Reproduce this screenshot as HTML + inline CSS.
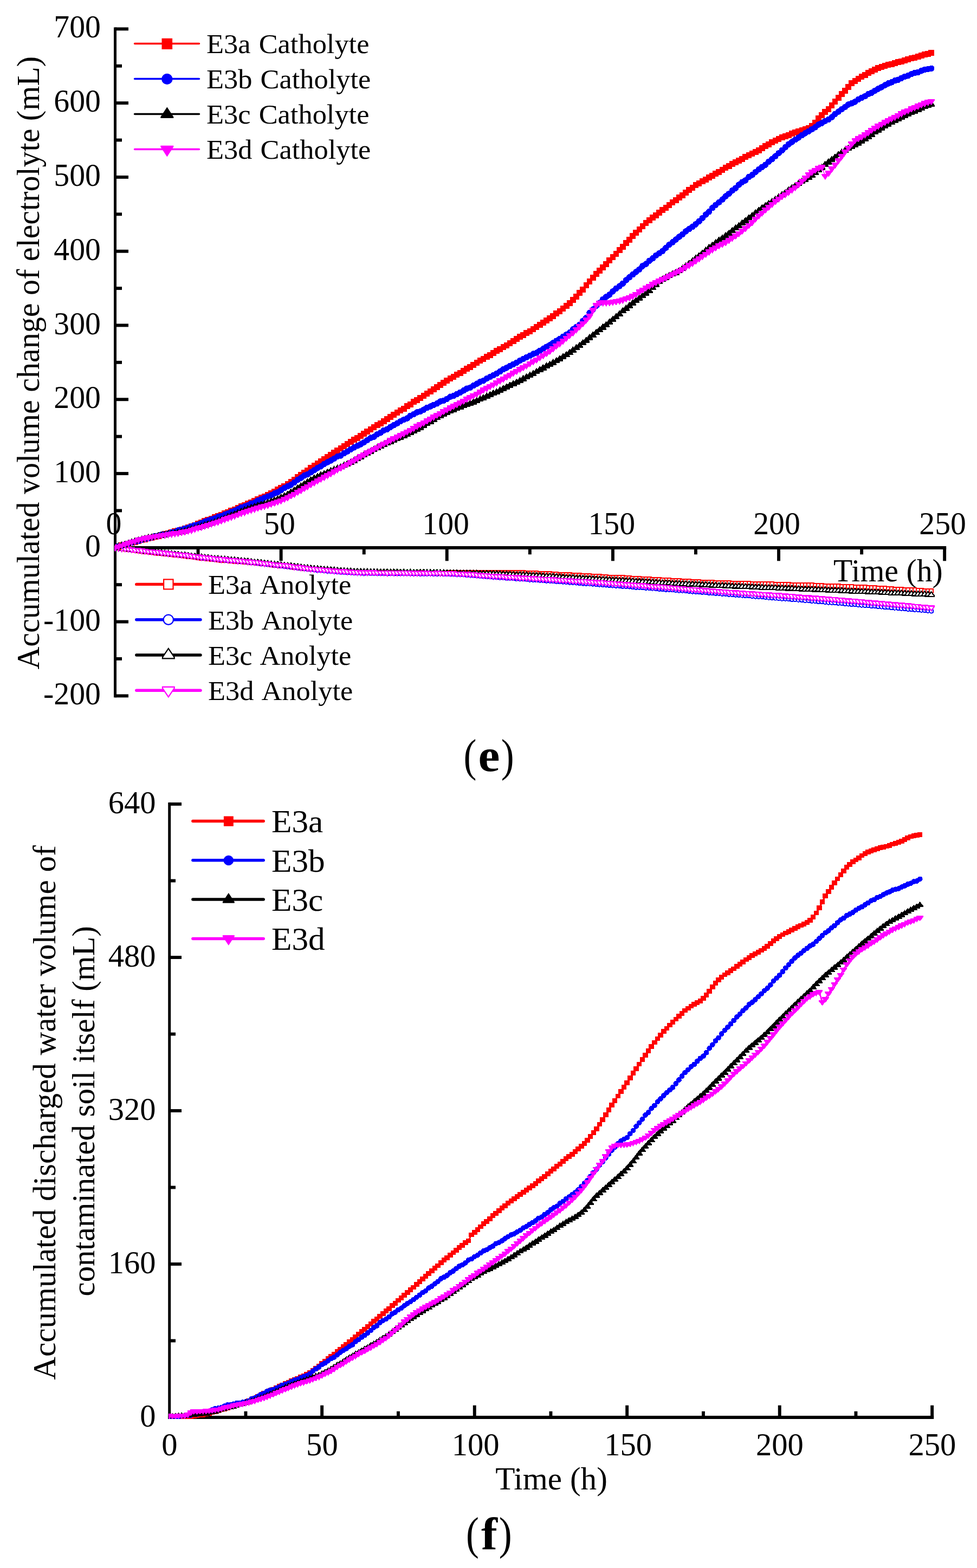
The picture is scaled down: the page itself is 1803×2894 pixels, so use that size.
<!DOCTYPE html>
<html lang="en">
<head>
<meta charset="utf-8">
<title>Accumulated electrolyte volume change and discharged water volume</title>
<style>
html,body{margin:0;padding:0;background:#fff}
body{width:1803px;height:2894px;overflow:hidden}
svg{display:block}
text{font-family:"Liberation Serif","DejaVu Serif",serif;fill:#000}
</style>
</head>
<body>
<svg width="1803" height="2894" viewBox="0 0 1803 2894">
<rect width="1803" height="2894" fill="#fff"/>
<defs>
<clipPath id="clip-e"><rect x="211" y="0" width="1592" height="1330"/></clipPath>
<marker id="eaa" markerUnits="userSpaceOnUse" markerWidth="29" markerHeight="29" viewBox="-14.5 -14.5 29 29" refX="0" refY="0"><g shape-rendering="crispEdges"><rect x="-3.4" y="-3.4" width="6.8" height="6.8" fill="#fff" stroke="#ff0000" stroke-width="2.0"/></g></marker>
<marker id="eab" markerUnits="userSpaceOnUse" markerWidth="29" markerHeight="29" viewBox="-14.5 -14.5 29 29" refX="0" refY="0"><g shape-rendering="crispEdges"><circle cx="0" cy="0" r="3.8" fill="#fff" stroke="#0000ff" stroke-width="2.0"/></g></marker>
<marker id="eac" markerUnits="userSpaceOnUse" markerWidth="29" markerHeight="29" viewBox="-14.5 -14.5 29 29" refX="0" refY="0"><g shape-rendering="crispEdges"><path d="M0 -5.6L5 1.2V3H-5V1.2Z" fill="#fff" stroke="#000000" stroke-width="2.2"/></g></marker>
<marker id="ead" markerUnits="userSpaceOnUse" markerWidth="29" markerHeight="29" viewBox="-14.5 -14.5 29 29" refX="0" refY="0"><g shape-rendering="crispEdges"><path d="M0 5.6L5 -1.2V-3H-5V-1.2Z" fill="#fff" stroke="#ff00ff" stroke-width="2.2"/></g></marker>
<marker id="eca" markerUnits="userSpaceOnUse" markerWidth="29" markerHeight="29" viewBox="-14.5 -14.5 29 29" refX="0" refY="0"><g shape-rendering="crispEdges"><rect x="-5.4" y="-5.5" width="10.8" height="11" fill="#ff0000"/></g></marker>
<marker id="ecb" markerUnits="userSpaceOnUse" markerWidth="29" markerHeight="29" viewBox="-14.5 -14.5 29 29" refX="0" refY="0"><g shape-rendering="crispEdges"><circle cx="0" cy="0" r="5.8" fill="#0000ff"/></g></marker>
<marker id="ecc" markerUnits="userSpaceOnUse" markerWidth="29" markerHeight="29" viewBox="-14.5 -14.5 29 29" refX="0" refY="0"><g shape-rendering="crispEdges"><path d="M0 -7.6L6.4 1.7V4H-6.4V1.7Z" fill="#000000"/></g></marker>
<marker id="ecd" markerUnits="userSpaceOnUse" markerWidth="29" markerHeight="29" viewBox="-14.5 -14.5 29 29" refX="0" refY="0"><g shape-rendering="crispEdges"><path d="M0 7.6L6.4 -1.7V-4H-6.4V-1.7Z" fill="#ff00ff"/></g></marker>
<clipPath id="clip-f"><rect x="311" y="1400" width="1492" height="1219"/></clipPath>
<marker id="fa" markerUnits="userSpaceOnUse" markerWidth="25.6" markerHeight="25.6" viewBox="-12.8 -12.8 25.6 25.6" refX="0" refY="0"><g shape-rendering="crispEdges"><rect x="-4.8" y="-4.4" width="9.6" height="8.8" fill="#ff0000"/></g></marker>
<marker id="fb" markerUnits="userSpaceOnUse" markerWidth="25.6" markerHeight="25.6" viewBox="-12.8 -12.8 25.6 25.6" refX="0" refY="0"><g shape-rendering="crispEdges"><circle cx="0" cy="0" r="4.9" fill="#0000ff"/></g></marker>
<marker id="fc" markerUnits="userSpaceOnUse" markerWidth="25.6" markerHeight="25.6" viewBox="-12.8 -12.8 25.6 25.6" refX="0" refY="0"><g shape-rendering="crispEdges"><path d="M0 -6.7L6.4 1.5V3.5H-6.4V1.5Z" fill="#000000"/></g></marker>
<marker id="fd" markerUnits="userSpaceOnUse" markerWidth="25.6" markerHeight="25.6" viewBox="-12.8 -12.8 25.6 25.6" refX="0" refY="0"><g shape-rendering="crispEdges"><path d="M0 6.7L6.4 -1.5V-3.5H-6.4V-1.5Z" fill="#ff00ff"/></g></marker>
</defs>
<g id="chart-e-text"><text transform="translate(186 1300.3) scale(0.976 1)" font-size="59.2" text-anchor="end">-200</text><text transform="translate(186 1163.6) scale(0.976 1)" font-size="59.2" text-anchor="end">-100</text><text transform="translate(186 1026.8) scale(0.976 1)" font-size="59.2" text-anchor="end">0</text><text transform="translate(186 890) scale(0.976 1)" font-size="59.2" text-anchor="end">100</text><text transform="translate(186 753.3) scale(0.976 1)" font-size="59.2" text-anchor="end">200</text><text transform="translate(186 616.5) scale(0.976 1)" font-size="59.2" text-anchor="end">300</text><text transform="translate(186 479.7) scale(0.976 1)" font-size="59.2" text-anchor="end">400</text><text transform="translate(186 343) scale(0.976 1)" font-size="59.2" text-anchor="end">500</text><text transform="translate(186 206.2) scale(0.976 1)" font-size="59.2" text-anchor="end">600</text><text transform="translate(186 69.4) scale(0.976 1)" font-size="59.2" text-anchor="end">700</text><text transform="translate(209.9 985.6) scale(0.976 1)" font-size="59.2" text-anchor="middle">0</text><text transform="translate(516 985.6) scale(0.976 1)" font-size="59.2" text-anchor="middle">50</text><text transform="translate(822.6 985.6) scale(0.976 1)" font-size="59.2" text-anchor="middle">100</text><text transform="translate(1128.7 985.6) scale(0.976 1)" font-size="59.2" text-anchor="middle">150</text><text transform="translate(1433.5 985.6) scale(0.976 1)" font-size="59.2" text-anchor="middle">200</text><text transform="translate(1739.6 985.6) scale(0.976 1)" font-size="59.2" text-anchor="middle">250</text><text transform="translate(1739.8 1072.5) scale(0.976 1)" font-size="59.2" text-anchor="end">Time (h)</text><text transform="translate(72.4 669.8) rotate(-90) scale(0.9795 1)" font-size="59.2" text-anchor="middle">Accumulated volume change of electrolyte (mL)</text></g>
<g id="chart-e-axes" fill="#000"><rect x="210" y="50.5" width="5" height="1236.8"/><rect x="212.5" y="1281.4" width="24.5" height="5.9"/><rect x="212.5" y="1213" width="12.5" height="5.9"/><rect x="212.5" y="1144.6" width="24.5" height="5.9"/><rect x="212.5" y="1076.2" width="12.5" height="5.9"/><rect x="212.5" y="1007.8" width="24.5" height="5.9"/><rect x="212.5" y="939.5" width="12.5" height="5.9"/><rect x="212.5" y="871.1" width="24.5" height="5.9"/><rect x="212.5" y="802.7" width="12.5" height="5.9"/><rect x="212.5" y="734.3" width="24.5" height="5.9"/><rect x="212.5" y="665.9" width="12.5" height="5.9"/><rect x="212.5" y="597.5" width="24.5" height="5.9"/><rect x="212.5" y="529.2" width="12.5" height="5.9"/><rect x="212.5" y="460.8" width="24.5" height="5.9"/><rect x="212.5" y="392.4" width="12.5" height="5.9"/><rect x="212.5" y="324" width="24.5" height="5.9"/><rect x="212.5" y="255.6" width="12.5" height="5.9"/><rect x="212.5" y="187.2" width="24.5" height="5.9"/><rect x="212.5" y="118.8" width="12.5" height="5.9"/><rect x="212.5" y="50.5" width="24.5" height="5.9"/><rect x="210" y="1008" width="1536.2" height="6"/><rect x="362.6" y="1010.8" width="5.9" height="12.5"/><rect x="515.7" y="1010.8" width="5.9" height="24.5"/><rect x="668.8" y="1010.8" width="5.9" height="12.5"/><rect x="821.8" y="1010.8" width="5.9" height="24.5"/><rect x="974.9" y="1010.8" width="5.9" height="12.5"/><rect x="1128" y="1010.8" width="5.9" height="24.5"/><rect x="1281" y="1010.8" width="5.9" height="12.5"/><rect x="1434.1" y="1010.8" width="5.9" height="24.5"/><rect x="1587.2" y="1010.8" width="5.9" height="12.5"/><rect x="1740.2" y="1010.8" width="5.9" height="24.5"/></g>
<g id="chart-e-data" clip-path="url(#clip-e)" shape-rendering="crispEdges"><polyline points="212.5,1010.8 218.6,1011.4 224.7,1012.5 230.9,1013.5 237,1014.2 243.1,1015 249.2,1015.6 255.4,1016.7 261.5,1017.7 267.6,1018.4 273.7,1019.1 279.9,1019.5 286,1020.7 292.1,1021.4 298.2,1021.7 304.3,1022.6 310.5,1023 316.6,1023.7 322.7,1024.5 328.8,1025.1 335,1026.1 341.1,1026.9 347.2,1027.4 353.3,1028.1 359.4,1028.7 365.6,1029.4 371.7,1030.5 377.8,1031.1 383.9,1031.5 390.1,1032.4 396.2,1033 402.3,1033.7 408.4,1034.2 414.6,1034.6 420.7,1035.1 426.8,1035.7 432.9,1036.2 439,1036.4 445.2,1036.8 451.3,1037.6 457.4,1037.8 463.5,1038.5 469.7,1039 475.8,1039.7 481.9,1040.3 488,1041.1 494.1,1042 500.3,1042.7 506.4,1043.3 512.5,1043.9 518.6,1044.6 524.8,1045.1 530.9,1045.6 537,1046.4 543.1,1047.3 549.3,1047.6 555.4,1048.2 561.5,1049.3 567.6,1049.6 573.7,1050.4 579.9,1051 586,1051.6 592.1,1051.9 598.2,1052.3 604.4,1053 610.5,1053.4 616.6,1053.8 622.7,1054.4 628.9,1054.7 635,1055.3 641.1,1055.4 647.2,1055.9 653.3,1056.3 659.5,1056.2 665.6,1056.5 671.7,1056.4 677.8,1056.5 684,1056.4 690.1,1056.4 696.2,1056.8 702.3,1056.7 708.4,1056.8 714.6,1056.9 720.7,1056.7 726.8,1056.7 732.9,1056.7 739.1,1057 745.2,1057 751.3,1057 757.4,1057.1 763.6,1057 769.7,1057 775.8,1056.8 781.9,1057.1 788,1056.9 794.2,1057 800.3,1056.9 806.4,1057 812.5,1057.1 818.7,1057 824.8,1056.9 830.9,1056.8 837,1057.1 843.1,1056.8 849.3,1056.8 855.4,1056.5 861.5,1056.5 867.6,1056.3 873.8,1056.4 879.9,1056.5 886,1056.5 892.1,1056.2 898.3,1056 904.4,1056.1 910.5,1056.1 916.6,1056.2 922.7,1056 928.9,1056.3 935,1056.1 941.1,1056.1 947.2,1056.3 953.4,1056.7 959.5,1056.7 965.6,1056.8 971.7,1057 977.9,1057.3 984,1057.4 990.1,1057.7 996.2,1058.2 1002.3,1058.4 1008.5,1058.7 1014.6,1058.6 1020.7,1059.1 1026.8,1059.3 1033,1059.9 1039.1,1060 1045.2,1060.6 1051.3,1060.6 1057.4,1061 1063.6,1061.6 1069.7,1061.8 1075.8,1062.3 1081.9,1062.4 1088.1,1062.6 1094.2,1063.2 1100.3,1063.5 1106.4,1063.8 1112.6,1063.9 1118.7,1064.2 1124.8,1064.9 1130.9,1065.2 1137,1065.5 1143.2,1065.5 1149.3,1065.7 1155.4,1066.3 1161.5,1066.7 1167.7,1067 1173.8,1067 1179.9,1067.5 1186,1068.1 1192.1,1068.1 1198.3,1068.8 1204.4,1069.3 1210.5,1069.3 1216.6,1069.5 1222.8,1070.4 1228.9,1070.6 1235,1070.8 1241.1,1071.2 1247.3,1071.7 1253.4,1071.8 1259.5,1072 1265.6,1072.6 1271.7,1072.8 1277.9,1073.3 1284,1073.7 1290.1,1073.7 1296.2,1073.9 1302.4,1074.1 1308.5,1074.7 1314.6,1074.6 1320.7,1075.3 1326.8,1075.3 1333,1075.7 1339.1,1075.8 1345.2,1075.7 1351.3,1075.9 1357.5,1076.5 1363.6,1076.3 1369.7,1076.7 1375.8,1076.6 1382,1076.8 1388.1,1077.2 1394.2,1077.1 1400.3,1077.5 1406.4,1077.7 1412.6,1077.6 1418.7,1077.7 1424.8,1077.8 1430.9,1078.1 1437.1,1078.1 1443.2,1078.5 1449.3,1078.7 1455.4,1078.8 1461.6,1079 1467.7,1079.1 1473.8,1079.4 1479.9,1079.4 1486,1079.8 1492.2,1079.7 1498.3,1079.8 1504.4,1080 1510.5,1080.5 1516.7,1080.4 1522.8,1080.9 1528.9,1081.2 1535,1081.3 1541.1,1081.3 1547.3,1081.8 1553.4,1081.9 1559.5,1082.4 1565.6,1082.4 1571.8,1082.6 1577.9,1083 1584,1083.3 1590.1,1083.5 1596.3,1083.8 1602.4,1084.3 1608.5,1084.5 1614.6,1084.6 1620.7,1085.1 1626.9,1085.4 1633,1085.8 1639.1,1085.9 1645.2,1086.3 1651.4,1087 1657.5,1087.3 1663.6,1087.7 1669.7,1088 1675.8,1088.2 1682,1088.8 1688.1,1088.8 1694.2,1089.3 1700.3,1089.7 1706.5,1090 1712.6,1090.3 1718.7,1090.7" fill="none" stroke="#ff0000" stroke-width="2" stroke-linejoin="round" marker-start="url(#eaa)" marker-mid="url(#eaa)" marker-end="url(#eaa)"/><polyline points="212.5,1010.8 218.6,1011.6 224.7,1012.1 230.9,1013 237,1013.5 243.1,1014.6 249.2,1015.3 255.4,1015.6 261.5,1016.8 267.6,1017.1 273.7,1017.9 279.9,1018.8 286,1019.6 292.1,1020.3 298.2,1020.6 304.3,1021.5 310.5,1022.2 316.6,1022.9 322.7,1023.7 328.8,1024.1 335,1025.1 341.1,1025.5 347.2,1026.2 353.3,1027 359.4,1027.8 365.6,1028.7 371.7,1029.3 377.8,1030.2 383.9,1030.6 390.1,1031.5 396.2,1032.1 402.3,1032.5 408.4,1033.1 414.6,1033.9 420.7,1034.3 426.8,1035 432.9,1035.4 439,1036 445.2,1036.3 451.3,1036.9 457.4,1037.5 463.5,1038.4 469.7,1038.6 475.8,1039.7 481.9,1040.1 488,1040.9 494.1,1041.6 500.3,1042.3 506.4,1043.1 512.5,1043.6 518.6,1044.3 524.8,1045.3 530.9,1046 537,1046.5 543.1,1047.4 549.3,1048.1 555.4,1048.8 561.5,1049.7 567.6,1050.4 573.7,1050.9 579.9,1051.8 586,1052.5 592.1,1052.7 598.2,1053.3 604.4,1054 610.5,1054.4 616.6,1054.9 622.7,1055.4 628.9,1056.1 635,1056.4 641.1,1056.8 647.2,1057 653.3,1057.4 659.5,1057.8 665.6,1057.7 671.7,1058.2 677.8,1057.9 684,1058.2 690.1,1058.1 696.2,1058.4 702.3,1058.5 708.4,1058.7 714.6,1058.8 720.7,1058.6 726.8,1058.7 732.9,1058.9 739.1,1058.8 745.2,1058.6 751.3,1058.7 757.4,1058.7 763.6,1059.1 769.7,1058.8 775.8,1059.1 781.9,1059.1 788,1059.1 794.2,1058.8 800.3,1059.3 806.4,1059.4 812.5,1059.1 818.7,1059.5 824.8,1059.4 830.9,1059.7 837,1059.9 843.1,1060.2 849.3,1060.4 855.4,1060.7 861.5,1061.4 867.6,1061.9 873.8,1062.1 879.9,1062.6 886,1063.2 892.1,1063.7 898.3,1064.4 904.4,1064.6 910.5,1065.1 916.6,1065.7 922.7,1066 928.9,1066.4 935,1067 941.1,1067.1 947.2,1067.5 953.4,1068.1 959.5,1068.7 965.6,1068.8 971.7,1069.2 977.9,1070 984,1070.1 990.1,1070.7 996.2,1071 1002.3,1071.6 1008.5,1072 1014.6,1072.2 1020.7,1072.7 1026.8,1073.2 1033,1073.5 1039.1,1073.9 1045.2,1074.3 1051.3,1075 1057.4,1075.2 1063.6,1075.8 1069.7,1076.5 1075.8,1076.9 1081.9,1077.4 1088.1,1077.4 1094.2,1077.9 1100.3,1078.4 1106.4,1078.9 1112.6,1079.4 1118.7,1079.8 1124.8,1080.4 1130.9,1080.8 1137,1081.2 1143.2,1081.4 1149.3,1082.2 1155.4,1082.6 1161.5,1082.8 1167.7,1083.3 1173.8,1084.1 1179.9,1084.2 1186,1084.7 1192.1,1085.3 1198.3,1085.7 1204.4,1085.9 1210.5,1086.6 1216.6,1087.2 1222.8,1087.7 1228.9,1088.1 1235,1088.2 1241.1,1088.7 1247.3,1089.3 1253.4,1089.9 1259.5,1090.1 1265.6,1090.7 1271.7,1091.1 1277.9,1091.9 1284,1092.4 1290.1,1092.7 1296.2,1093.1 1302.4,1093.4 1308.5,1094.3 1314.6,1094.7 1320.7,1095.2 1326.8,1095.2 1333,1096.1 1339.1,1096.2 1345.2,1097.1 1351.3,1097.4 1357.5,1098.1 1363.6,1098.3 1369.7,1098.9 1375.8,1099.4 1382,1099.7 1388.1,1100.3 1394.2,1100.9 1400.3,1101.3 1406.4,1101.7 1412.6,1102.2 1418.7,1102.9 1424.8,1103.5 1430.9,1103.8 1437.1,1104.3 1443.2,1104.9 1449.3,1105 1455.4,1105.4 1461.6,1106.3 1467.7,1106.7 1473.8,1107 1479.9,1107.7 1486,1108.2 1492.2,1108.6 1498.3,1109.1 1504.4,1109.5 1510.5,1110.2 1516.7,1110.5 1522.8,1111.3 1528.9,1111.9 1535,1112.3 1541.1,1112.6 1547.3,1113.2 1553.4,1113.7 1559.5,1114.2 1565.6,1114.8 1571.8,1115.4 1577.9,1115.7 1584,1116.1 1590.1,1116.9 1596.3,1117.5 1602.4,1117.6 1608.5,1118.4 1614.6,1118.7 1620.7,1119.4 1626.9,1119.8 1633,1120.6 1639.1,1120.7 1645.2,1121.7 1651.4,1121.9 1657.5,1122.3 1663.6,1123 1669.7,1123.4 1675.8,1124.2 1682,1124.6 1688.1,1125.1 1694.2,1125.5 1700.3,1126 1706.5,1126.7 1712.6,1127.1 1718.7,1127.8" fill="none" stroke="#0000ff" stroke-width="2" stroke-linejoin="round" marker-start="url(#eab)" marker-mid="url(#eab)" marker-end="url(#eab)"/><polyline points="212.5,1010.8 218.6,1011.4 224.7,1012.5 230.9,1013.3 237,1014 243.1,1014.5 249.2,1015.3 255.4,1016.1 261.5,1016.7 267.6,1017.4 273.7,1017.8 279.9,1018.6 286,1019.1 292.1,1020.2 298.2,1020.6 304.3,1021.4 310.5,1021.8 316.6,1022.5 322.7,1023 328.8,1023.8 335,1024.7 341.1,1025 347.2,1025.7 353.3,1026.7 359.4,1026.9 365.6,1027.6 371.7,1028.5 377.8,1029.3 383.9,1029.5 390.1,1030.5 396.2,1031.2 402.3,1031.4 408.4,1032.2 414.6,1032.7 420.7,1033.2 426.8,1034 432.9,1034 439,1034.7 445.2,1035.5 451.3,1035.8 457.4,1036.4 463.5,1037.2 469.7,1037.9 475.8,1038.2 481.9,1039 488,1039.6 494.1,1040.3 500.3,1041.1 506.4,1041.8 512.5,1042.1 518.6,1043.1 524.8,1043.7 530.9,1044.2 537,1044.9 543.1,1045.6 549.3,1046.3 555.4,1047.4 561.5,1048 567.6,1048.4 573.7,1049.2 579.9,1049.8 586,1050.1 592.1,1051 598.2,1051.2 604.4,1051.6 610.5,1052 616.6,1052.6 622.7,1053.2 628.9,1053.7 635,1054.1 641.1,1054.2 647.2,1054.4 653.3,1055.1 659.5,1055.1 665.6,1055.2 671.7,1055.7 677.8,1055.5 684,1055.6 690.1,1055.9 696.2,1056 702.3,1056.3 708.4,1056.1 714.6,1056.1 720.7,1056.5 726.8,1056.2 732.9,1056.3 739.1,1056.5 745.2,1056.5 751.3,1056.9 757.4,1056.5 763.6,1056.9 769.7,1056.9 775.8,1056.7 781.9,1056.7 788,1057.2 794.2,1056.9 800.3,1056.9 806.4,1057.1 812.5,1057.4 818.7,1057.4 824.8,1057.6 830.9,1057.8 837,1057.6 843.1,1057.7 849.3,1058.1 855.4,1057.9 861.5,1058.3 867.6,1058.1 873.8,1058.3 879.9,1058.3 886,1058.8 892.1,1058.7 898.3,1058.8 904.4,1059 910.5,1059.2 916.6,1059.3 922.7,1059.6 928.9,1060 935,1060.2 941.1,1060.2 947.2,1060.7 953.4,1061.1 959.5,1061.2 965.6,1061.4 971.7,1061.5 977.9,1062.2 984,1062.5 990.1,1062.5 996.2,1062.9 1002.3,1063.5 1008.5,1063.8 1014.6,1064 1020.7,1064.3 1026.8,1064.6 1033,1065.2 1039.1,1065.7 1045.2,1066.2 1051.3,1066.4 1057.4,1066.6 1063.6,1067.2 1069.7,1067.2 1075.8,1067.9 1081.9,1068.3 1088.1,1068.3 1094.2,1068.9 1100.3,1069.1 1106.4,1069.5 1112.6,1069.9 1118.7,1070.2 1124.8,1070.5 1130.9,1071.1 1137,1071.1 1143.2,1071.7 1149.3,1071.8 1155.4,1072.3 1161.5,1072.5 1167.7,1072.9 1173.8,1073.3 1179.9,1073.4 1186,1073.8 1192.1,1074.4 1198.3,1074.5 1204.4,1074.8 1210.5,1075.4 1216.6,1075.8 1222.8,1076.1 1228.9,1076.3 1235,1076.3 1241.1,1077.1 1247.3,1077.2 1253.4,1077.7 1259.5,1077.8 1265.6,1077.9 1271.7,1078.7 1277.9,1078.5 1284,1079.1 1290.1,1079.2 1296.2,1079.5 1302.4,1079.7 1308.5,1080.3 1314.6,1080.4 1320.7,1080.8 1326.8,1081.3 1333,1081.2 1339.1,1081.4 1345.2,1081.8 1351.3,1082.2 1357.5,1082.6 1363.6,1082.5 1369.7,1082.9 1375.8,1083.1 1382,1083.3 1388.1,1083.6 1394.2,1084.1 1400.3,1084 1406.4,1084.7 1412.6,1084.9 1418.7,1085.1 1424.8,1085.1 1430.9,1085.3 1437.1,1085.9 1443.2,1085.8 1449.3,1086.2 1455.4,1086.4 1461.6,1086.5 1467.7,1087.2 1473.8,1087.1 1479.9,1087.6 1486,1087.9 1492.2,1088 1498.3,1088 1504.4,1088.6 1510.5,1088.6 1516.7,1089.2 1522.8,1089 1528.9,1089.6 1535,1089.8 1541.1,1090 1547.3,1090.1 1553.4,1090.4 1559.5,1090.9 1565.6,1091.3 1571.8,1091.5 1577.9,1091.7 1584,1091.7 1590.1,1092.3 1596.3,1092.3 1602.4,1092.5 1608.5,1093 1614.6,1093.3 1620.7,1093.3 1626.9,1093.5 1633,1093.8 1639.1,1094.2 1645.2,1094.7 1651.4,1094.7 1657.5,1095.1 1663.6,1095.1 1669.7,1095.5 1675.8,1095.9 1682,1096.1 1688.1,1096.5 1694.2,1096.8 1700.3,1096.8 1706.5,1096.9 1712.6,1097.5 1718.7,1097.9" fill="none" stroke="#000000" stroke-width="2" stroke-linejoin="round" marker-start="url(#eac)" marker-mid="url(#eac)" marker-end="url(#eac)"/><polyline points="212.5,1010.8 218.6,1011.6 224.7,1012.3 230.9,1012.6 237,1013.4 243.1,1014.4 249.2,1014.9 255.4,1015.4 261.5,1016.2 267.6,1016.7 273.7,1017.7 279.9,1018.1 286,1018.8 292.1,1019.2 298.2,1020.2 304.3,1020.6 310.5,1021.6 316.6,1022 322.7,1022.8 328.8,1023.5 335,1024.2 341.1,1024.5 347.2,1025.3 353.3,1026.1 359.4,1026.9 365.6,1027.5 371.7,1028.4 377.8,1029.1 383.9,1029.5 390.1,1030.3 396.2,1031.2 402.3,1031.4 408.4,1032.3 414.6,1032.5 420.7,1033.4 426.8,1033.9 432.9,1034.3 439,1035.1 445.2,1035.3 451.3,1035.8 457.4,1036.4 463.5,1037.2 469.7,1037.7 475.8,1038.1 481.9,1038.9 488,1039.9 494.1,1040.2 500.3,1041 506.4,1041.8 512.5,1042.5 518.6,1042.8 524.8,1043.5 530.9,1044.2 537,1045 543.1,1046.2 549.3,1046.6 555.4,1047.3 561.5,1048.2 567.6,1048.9 573.7,1049.7 579.9,1050.3 586,1050.9 592.1,1051.2 598.2,1051.9 604.4,1052.2 610.5,1052.8 616.6,1053.4 622.7,1053.9 628.9,1054.5 635,1054.6 641.1,1055.1 647.2,1055.4 653.3,1055.9 659.5,1056.2 665.6,1056.4 671.7,1056.4 677.8,1056.6 684,1056.7 690.1,1056.6 696.2,1056.9 702.3,1056.8 708.4,1056.8 714.6,1057.3 720.7,1056.9 726.8,1057.2 732.9,1057.2 739.1,1057 745.2,1057.3 751.3,1057.2 757.4,1057.3 763.6,1057.6 769.7,1057.6 775.8,1057.5 781.9,1057.4 788,1057.5 794.2,1057.7 800.3,1057.7 806.4,1057.5 812.5,1057.9 818.7,1058.1 824.8,1057.9 830.9,1058.1 837,1058.1 843.1,1058.8 849.3,1058.8 855.4,1059.1 861.5,1059.5 867.6,1059.9 873.8,1060.2 879.9,1061 886,1061.5 892.1,1062 898.3,1062.2 904.4,1062.7 910.5,1063.2 916.6,1063.6 922.7,1063.8 928.9,1064.2 935,1064.8 941.1,1065.1 947.2,1065.1 953.4,1065.6 959.5,1066.3 965.6,1066.4 971.7,1066.7 977.9,1067.1 984,1067.5 990.1,1068 996.2,1068.1 1002.3,1068.8 1008.5,1068.9 1014.6,1069.3 1020.7,1069.5 1026.8,1070 1033,1070.7 1039.1,1070.8 1045.2,1071 1051.3,1071.6 1057.4,1072 1063.6,1072.5 1069.7,1072.7 1075.8,1073.3 1081.9,1073.3 1088.1,1073.9 1094.2,1074.2 1100.3,1074.6 1106.4,1075.1 1112.6,1075.3 1118.7,1075.9 1124.8,1076.3 1130.9,1076.8 1137,1077 1143.2,1077.4 1149.3,1077.8 1155.4,1078.6 1161.5,1078.8 1167.7,1079.5 1173.8,1079.9 1179.9,1080.2 1186,1080.6 1192.1,1081.2 1198.3,1081.8 1204.4,1082.2 1210.5,1082.5 1216.6,1083 1222.8,1083.3 1228.9,1084 1235,1084.2 1241.1,1084.9 1247.3,1085.1 1253.4,1085.8 1259.5,1086.3 1265.6,1086.9 1271.7,1087.2 1277.9,1087.7 1284,1088.2 1290.1,1088.5 1296.2,1089 1302.4,1089.5 1308.5,1089.9 1314.6,1090.4 1320.7,1090.8 1326.8,1091.5 1333,1091.8 1339.1,1092.1 1345.2,1092.8 1351.3,1092.9 1357.5,1093.4 1363.6,1093.8 1369.7,1094.4 1375.8,1094.7 1382,1095.2 1388.1,1095.5 1394.2,1095.8 1400.3,1096.2 1406.4,1096.7 1412.6,1097.1 1418.7,1097.4 1424.8,1098.2 1430.9,1098.2 1437.1,1098.6 1443.2,1099.1 1449.3,1099.6 1455.4,1100 1461.6,1100.3 1467.7,1100.9 1473.8,1101.5 1479.9,1101.7 1486,1102.4 1492.2,1102.6 1498.3,1103.4 1504.4,1103.6 1510.5,1104.1 1516.7,1104.5 1522.8,1105.2 1528.9,1105.4 1535,1105.9 1541.1,1106.3 1547.3,1107.1 1553.4,1107.2 1559.5,1107.7 1565.6,1108.5 1571.8,1109.1 1577.9,1109.2 1584,1109.8 1590.1,1110.2 1596.3,1110.8 1602.4,1111.4 1608.5,1112.1 1614.6,1112.4 1620.7,1113.1 1626.9,1113.4 1633,1114 1639.1,1114.5 1645.2,1114.9 1651.4,1115.5 1657.5,1116.3 1663.6,1116.4 1669.7,1117.3 1675.8,1117.6 1682,1118.3 1688.1,1118.7 1694.2,1119.1 1700.3,1119.9 1706.5,1120.5 1712.6,1121.1 1718.7,1121.5" fill="none" stroke="#ff00ff" stroke-width="2" stroke-linejoin="round" marker-start="url(#ead)" marker-mid="url(#ead)" marker-end="url(#ead)"/><polyline points="212.5,1010.8 218.6,1009.1 224.7,1006.9 230.9,1005.4 237,1003.5 243.1,1001.7 249.2,1000.1 255.4,998.5 261.5,996.8 267.6,995.2 273.7,993.5 279.9,992 286,990.1 292.1,989 298.2,987 304.3,985.9 310.5,984.2 316.6,982.7 322.7,980.8 328.8,979.1 335,977.7 341.1,975.8 347.2,973.3 353.3,971.4 359.4,969.2 365.6,966.9 371.7,964 377.8,961.5 383.9,959.2 390.1,957.1 396.2,954.3 402.3,952.1 408.4,950 414.6,947.3 420.7,945 426.8,942.3 432.9,940 439,937.6 445.2,934.6 451.3,932.4 457.4,929.9 463.5,927.1 469.7,924.1 475.8,921.7 481.9,918.6 488,916 494.1,913.4 500.3,910.1 506.4,907.1 512.5,903.8 518.6,900.4 524.8,897.3 530.9,893.2 537,889.3 543.1,885.3 549.3,880.8 555.4,876.8 561.5,872.2 567.6,868.1 573.7,863.9 579.9,859.5 586,855.6 592.1,851.7 598.2,847.5 604.4,843.3 610.5,839.5 616.6,835.6 622.7,831.5 628.9,827.8 635,823.6 641.1,819.8 647.2,815.5 653.3,811.6 659.5,808.1 665.6,804 671.7,800 677.8,796.6 684,792.4 690.1,788.8 696.2,784.9 702.3,781.1 708.4,777.1 714.6,773.3 720.7,769.2 726.8,765.2 732.9,761.7 739.1,757.6 745.2,754 751.3,749.9 757.4,746 763.6,741.8 769.7,738.3 775.8,734.1 781.9,730.2 788,726.1 794.2,722.1 800.3,718.5 806.4,714.4 812.5,710.1 818.7,706.6 824.8,702.6 830.9,698.9 837,695.4 843.1,691.4 849.3,688 855.4,684.2 861.5,680.2 867.6,677.1 873.8,673.3 879.9,669.9 886,665.7 892.1,662 898.3,658.9 904.4,655.1 910.5,651.1 916.6,647.9 922.7,644.3 928.9,640.8 935,637 941.1,633 947.2,629.2 953.4,625.5 959.5,621.8 965.6,618.3 971.7,614.9 977.9,611 984,607.3 990.1,603.6 996.2,599.3 1002.3,595.5 1008.5,591.7 1014.6,587.8 1020.7,583.4 1026.8,578.9 1033,574.9 1039.1,569.7 1045.2,564.9 1051.3,559.1 1057.4,553.4 1063.6,547.2 1069.7,540.8 1075.8,534 1081.9,526.9 1088.1,519.7 1094.2,512.6 1100.3,505.8 1106.4,499.3 1112.6,493.3 1118.7,487 1124.8,480.5 1130.9,474.2 1137,468.4 1143.2,461.7 1149.3,455 1155.4,448.6 1161.5,442.5 1167.7,435.8 1173.8,429.6 1179.9,423.5 1186,417.3 1192.1,411.3 1198.3,406.4 1204.4,401.7 1210.5,397.3 1216.6,392.4 1222.8,387.7 1228.9,383 1235,378.6 1241.1,373.9 1247.3,369.2 1253.4,364.4 1259.5,360.1 1265.6,355.1 1271.7,350.3 1277.9,346 1284,341.9 1290.1,338.2 1296.2,334.4 1302.4,331 1308.5,327.9 1314.6,324.6 1320.7,320.7 1326.8,317.3 1333,313.2 1339.1,309.7 1345.2,306.5 1351.3,302.7 1357.5,299.7 1363.6,296.4 1369.7,293.4 1375.8,289.8 1382,286.4 1388.1,283.5 1394.2,280.3 1400.3,277.1 1406.4,273.8 1412.6,269.7 1418.7,266.1 1424.8,262.6 1430.9,259.3 1437.1,256.3 1443.2,253.4 1449.3,251.3 1455.4,249 1461.6,246.7 1467.7,244.5 1473.8,242.4 1479.9,240.5 1486,238.6 1492.2,236.1 1498.3,232.5 1504.4,226.7 1510.5,218.8 1516.7,212.7 1522.8,206.9 1528.9,201 1535,194.1 1541.1,187.7 1547.3,180.8 1553.4,173.5 1559.5,167 1565.6,160.4 1571.8,153.9 1577.9,149.4 1584,145.1 1590.1,141.9 1596.3,138.1 1602.4,134.7 1608.5,131.4 1614.6,128.4 1620.7,125.6 1626.9,123.5 1633,121.9 1639.1,119.9 1645.2,118.4 1651.4,116.8 1657.5,114.6 1663.6,113.1 1669.7,111.2 1675.8,109.6 1682,107.5 1688.1,106.1 1694.2,104.2 1700.3,102.2 1706.5,100.9 1712.6,99.1 1718.7,97.1" fill="none" stroke="#ff0000" stroke-width="1.3" stroke-linejoin="round" marker-start="url(#eca)" marker-mid="url(#eca)" marker-end="url(#eca)"/><polyline points="212.5,1010.8 218.6,1008.1 224.7,1007.3 230.9,1005.3 237,1003.5 243.1,1001.6 249.2,999.7 255.4,998.7 261.5,996.5 267.6,994.7 273.7,993.7 279.9,991.9 286,989.7 292.1,988.9 298.2,986.8 304.3,986.4 310.5,985 316.6,982.9 322.7,981.9 328.8,978.9 335,977.9 341.1,975.3 347.2,974 353.3,971.4 359.4,969.4 365.6,968.1 371.7,965.3 377.8,962.9 383.9,960.8 390.1,958.8 396.2,956.7 402.3,953.9 408.4,952.4 414.6,949.7 420.7,947.3 426.8,944.5 432.9,942.7 439,939.8 445.2,936.5 451.3,934.9 457.4,932.7 463.5,929.3 469.7,927.5 475.8,923.9 481.9,921.7 488,918.9 494.1,916.2 500.3,914.1 506.4,910.8 512.5,908.6 518.6,904.8 524.8,900.7 530.9,897.7 537,894.9 543.1,890.3 549.3,885.7 555.4,882.1 561.5,877.9 567.6,875.6 573.7,871.8 579.9,867.8 586,863.9 592.1,860.8 598.2,856.3 604.4,853.1 610.5,850.1 616.6,846.5 622.7,842.5 628.9,840.9 635,836.5 641.1,833.2 647.2,829.4 653.3,825.9 659.5,822.7 665.6,820 671.7,816.4 677.8,812.3 684,808.1 690.1,806.1 696.2,801.7 702.3,798.8 708.4,794.4 714.6,792.1 720.7,788.1 726.8,784.8 732.9,781.2 739.1,777.7 745.2,774.7 751.3,772.1 757.4,767.3 763.6,764.5 769.7,760.9 775.8,759.2 781.9,756.1 788,752.4 794.2,750 800.3,747.5 806.4,744.8 812.5,741 818.7,739.4 824.8,736.3 830.9,732.2 837,730.5 843.1,727.3 849.3,724.4 855.4,720.9 861.5,717.3 867.6,715.4 873.8,711.7 879.9,708.2 886,704.9 892.1,702.8 898.3,698.7 904.4,695.6 910.5,692.4 916.6,689.4 922.7,685.7 928.9,681.5 935,678.9 941.1,675.4 947.2,672.3 953.4,669.4 959.5,665.5 965.6,662.4 971.7,659.3 977.9,656.6 984,653.1 990.1,651.1 996.2,647.4 1002.3,643.9 1008.5,640.3 1014.6,637 1020.7,633 1026.8,629.1 1033,625.3 1039.1,621.3 1045.2,617.7 1051.3,613.9 1057.4,607.9 1063.6,603.6 1069.7,599.3 1075.8,592.2 1081.9,586.3 1088.1,577.4 1094.2,571 1100.3,564.3 1106.4,559 1112.6,552.5 1118.7,548 1124.8,544 1130.9,538 1137,532.7 1143.2,528.1 1149.3,523.3 1155.4,517.1 1161.5,511.9 1167.7,506.6 1173.8,501.9 1179.9,497.1 1186,491 1192.1,487.1 1198.3,481.4 1204.4,476.9 1210.5,471.6 1216.6,467.5 1222.8,463.2 1228.9,457.3 1235,451.8 1241.1,447 1247.3,442 1253.4,437.1 1259.5,432.4 1265.6,427 1271.7,422.7 1277.9,418.5 1284,414 1290.1,408.6 1296.2,402.6 1302.4,396 1308.5,390.7 1314.6,383.7 1320.7,378.4 1326.8,373.4 1333,368.2 1339.1,362.1 1345.2,357.6 1351.3,351.8 1357.5,347.2 1363.6,341 1369.7,336.1 1375.8,332.9 1382,326.6 1388.1,322.9 1394.2,317.6 1400.3,312.7 1406.4,308.2 1412.6,304.2 1418.7,298.4 1424.8,293.8 1430.9,288.2 1437.1,282.7 1443.2,277.5 1449.3,271.8 1455.4,266.2 1461.6,262 1467.7,257.6 1473.8,253.9 1479.9,249.5 1486,245.9 1492.2,242.3 1498.3,238.6 1504.4,234.8 1510.5,230.1 1516.7,227.1 1522.8,223.3 1528.9,220.7 1535,216.2 1541.1,210.5 1547.3,206 1553.4,201.7 1559.5,197.6 1565.6,193 1571.8,190.8 1577.9,187.9 1584,183.6 1590.1,180.5 1596.3,177.6 1602.4,173.6 1608.5,171.2 1614.6,167.3 1620.7,164 1626.9,160.9 1633,157.1 1639.1,154 1645.2,151.9 1651.4,148.8 1657.5,147.2 1663.6,144.2 1669.7,141.3 1675.8,139.8 1682,136.8 1688.1,134.3 1694.2,133.3 1700.3,130.8 1706.5,128.5 1712.6,127.5 1718.7,126.3" fill="none" stroke="#0000ff" stroke-width="1.3" stroke-linejoin="round" marker-start="url(#ecb)" marker-mid="url(#ecb)" marker-end="url(#ecb)"/><polyline points="212.5,1010.8 218.6,1008.8 224.7,1006.6 230.9,1004.7 237,1003.1 243.1,1001.2 249.2,999 255.4,997.4 261.5,995.7 267.6,994.4 273.7,992.7 279.9,991.7 286,990.6 292.1,989.3 298.2,988.5 304.3,987.5 310.5,986.1 316.6,985.4 322.7,984.2 328.8,983.1 335,981.7 341.1,980.5 347.2,978.8 353.3,976.9 359.4,975.4 365.6,973.7 371.7,971.5 377.8,969.5 383.9,967.6 390.1,965.9 396.2,963.9 402.3,961.6 408.4,959.4 414.6,957 420.7,954.3 426.8,951.6 432.9,949.4 439,946.9 445.2,944.3 451.3,941.8 457.4,939.6 463.5,937.5 469.7,935.4 475.8,933.4 481.9,931.6 488,930 494.1,927.9 500.3,925.7 506.4,923.5 512.5,921.3 518.6,918.6 524.8,915.8 530.9,912.7 537,908.9 543.1,905.3 549.3,901.3 555.4,897.6 561.5,893.7 567.6,889.9 573.7,886.3 579.9,882.9 586,880.2 592.1,877.2 598.2,874.7 604.4,872 610.5,869.6 616.6,866.9 622.7,864.5 628.9,862.4 635,859.3 641.1,856.7 647.2,853.7 653.3,850.6 659.5,847.2 665.6,843.9 671.7,840.2 677.8,836.8 684,833.5 690.1,830.2 696.2,827 702.3,823.9 708.4,821.2 714.6,818.1 720.7,815.8 726.8,812.9 732.9,810.1 739.1,807.5 745.2,804.5 751.3,802.1 757.4,799.1 763.6,796 769.7,792.7 775.8,789.5 781.9,785.9 788,782.3 794.2,778.8 800.3,775 806.4,771.3 812.5,768 818.7,764.6 824.8,761.6 830.9,759.2 837,756.6 843.1,754.3 849.3,751.8 855.4,749.3 861.5,746.7 867.6,744.7 873.8,742.6 879.9,740 886,737.3 892.1,734.6 898.3,731.8 904.4,729 910.5,726.2 916.6,723.8 922.7,720.8 928.9,717.6 935,714.8 941.1,711.6 947.2,708.7 953.4,706 959.5,702.8 965.6,699.5 971.7,696.2 977.9,693.2 984,690.1 990.1,686.4 996.2,682.9 1002.3,679.5 1008.5,676.1 1014.6,673.3 1020.7,669.7 1026.8,666.4 1033,662.5 1039.1,658.9 1045.2,655.2 1051.3,651.3 1057.4,646.7 1063.6,642.2 1069.7,638.2 1075.8,633.3 1081.9,628.8 1088.1,623.5 1094.2,619 1100.3,614.2 1106.4,609.4 1112.6,604.5 1118.7,600 1124.8,594.9 1130.9,590.1 1137,585.1 1143.2,580 1149.3,574.3 1155.4,569.5 1161.5,564.5 1167.7,559.9 1173.8,555.2 1179.9,550.8 1186,546.4 1192.1,542.1 1198.3,537 1204.4,531.3 1210.5,525.6 1216.6,520.2 1222.8,516.1 1228.9,512.5 1235,509 1241.1,506.2 1247.3,503.5 1253.4,500.1 1259.5,495.8 1265.6,491.4 1271.7,486.9 1277.9,482.2 1284,477.2 1290.1,472.8 1296.2,467.7 1302.4,462.8 1308.5,457.6 1314.6,453.3 1320.7,448.6 1326.8,444 1333,440 1339.1,435.5 1345.2,431.1 1351.3,426.1 1357.5,421.4 1363.6,417.2 1369.7,412.3 1375.8,407.7 1382,402.8 1388.1,398.5 1394.2,393.4 1400.3,388.9 1406.4,384 1412.6,380.1 1418.7,376 1424.8,372.6 1430.9,368.5 1437.1,364.2 1443.2,360 1449.3,356 1455.4,351.3 1461.6,347 1467.7,343 1473.8,339 1479.9,335.3 1486,331.6 1492.2,327.5 1498.3,323.6 1504.4,318.8 1510.5,314.1 1516.7,309.5 1522.8,304.2 1528.9,299.5 1535,295 1541.1,290.6 1547.3,285.9 1553.4,281.7 1559.5,278 1565.6,274.2 1571.8,271.2 1577.9,268 1584,264.6 1590.1,261.1 1596.3,257 1602.4,252.7 1608.5,248.6 1614.6,244.4 1620.7,240.6 1626.9,236.5 1633,232.9 1639.1,229.8 1645.2,226 1651.4,222.8 1657.5,220 1663.6,216.7 1669.7,213.7 1675.8,211.2 1682,208.3 1688.1,205.6 1694.2,202.6 1700.3,200.2 1706.5,197.3 1712.6,194.9 1718.7,192.7" fill="none" stroke="#000000" stroke-width="1.3" stroke-linejoin="round" marker-start="url(#ecc)" marker-mid="url(#ecc)" marker-end="url(#ecc)"/><polyline points="212.5,1010.8 218.6,1008.5 224.7,1006.5 230.9,1004.2 237,1002.2 243.1,999.9 249.2,998.5 255.4,996.2 261.5,994.7 267.6,993.3 273.7,992.2 279.9,990.6 286,990 292.1,989.1 298.2,987.8 304.3,987.2 310.5,986.1 316.6,985.4 322.7,984.3 328.8,983.8 335,982.4 341.1,981.3 347.2,979.8 353.3,978.2 359.4,976.1 365.6,974.2 371.7,972.7 377.8,970.5 383.9,968.9 390.1,966.7 396.2,964.8 402.3,963.1 408.4,960.7 414.6,958.3 420.7,956.1 426.8,954.1 432.9,951.8 439,949.6 445.2,947.2 451.3,945.2 457.4,942.9 463.5,941.1 469.7,939.3 475.8,937.1 481.9,935.4 488,933.7 494.1,932 500.3,929.8 506.4,928 512.5,925.8 518.6,923.6 524.8,920.7 530.9,918 537,914.6 543.1,911.5 549.3,907.8 555.4,904.7 561.5,900.9 567.6,897.5 573.7,893.8 579.9,890.6 586,887 592.1,883.6 598.2,880.4 604.4,877.1 610.5,873.8 616.6,870.2 622.7,866.5 628.9,863.4 635,859.8 641.1,856.6 647.2,853.3 653.3,849.6 659.5,846.2 665.6,842.4 671.7,839.1 677.8,835.4 684,832.2 690.1,828.7 696.2,825.5 702.3,821.7 708.4,818.5 714.6,815.6 720.7,812.3 726.8,809.2 732.9,806.2 739.1,802.8 745.2,799.9 751.3,796.5 757.4,793.5 763.6,790.1 769.7,786.4 775.8,783.2 781.9,780 788,776.3 794.2,772.7 800.3,769.4 806.4,765.9 812.5,762.6 818.7,759 824.8,755.6 830.9,752.3 837,749.1 843.1,746.1 849.3,742.9 855.4,739.5 861.5,736 867.6,733.1 873.8,729.8 879.9,726.6 886,723 892.1,719.4 898.3,716.4 904.4,712.6 910.5,709.5 916.6,706.1 922.7,702.3 928.9,699.1 935,695.1 941.1,692 947.2,688.2 953.4,684.8 959.5,681.3 965.6,678 971.7,674.5 977.9,670.5 984,666.9 990.1,663.6 996.2,659.5 1002.3,656 1008.5,651.9 1014.6,647.7 1020.7,643.1 1026.8,638.3 1033,633.9 1039.1,628.8 1045.2,623.5 1051.3,618.5 1057.4,613.7 1063.6,608.1 1069.7,602.4 1075.8,596.8 1081.9,590.2 1088.1,583.3 1094.2,572.4 1100.3,563 1106.4,559.3 1112.6,558.4 1118.7,558.3 1124.8,558.2 1130.9,557.2 1137,556.4 1143.2,555.3 1149.3,553.4 1155.4,550.8 1161.5,548.9 1167.7,546.1 1173.8,542.5 1179.9,538.4 1186,534.6 1192.1,530.9 1198.3,527.9 1204.4,524.3 1210.5,521.1 1216.6,518.4 1222.8,515.3 1228.9,512.3 1235,509.2 1241.1,505.9 1247.3,502.9 1253.4,499.9 1259.5,496.7 1265.6,493.1 1271.7,489.3 1277.9,485.7 1284,481.3 1290.1,477.2 1296.2,473 1302.4,468.6 1308.5,464.4 1314.6,460.3 1320.7,456.8 1326.8,453.2 1333,450.2 1339.1,447 1345.2,443 1351.3,439.1 1357.5,434.9 1363.6,430.6 1369.7,425.9 1375.8,421.1 1382,415.5 1388.1,410.1 1394.2,403.7 1400.3,398 1406.4,392.5 1412.6,386.9 1418.7,381.9 1424.8,376.7 1430.9,371.3 1437.1,366.5 1443.2,362 1449.3,358.5 1455.4,354.2 1461.6,350.1 1467.7,345.5 1473.8,340 1479.9,334 1486,327.7 1492.2,322.1 1498.3,317.3 1504.4,313.5 1510.5,310.3 1516.7,308.4 1522.8,324.6 1528.9,319.3 1535,311.3 1541.1,304 1547.3,295.9 1553.4,288.4 1559.5,279.8 1565.6,272.6 1571.8,265.3 1577.9,258.6 1584,255.3 1590.1,252.3 1596.3,248.2 1602.4,244.2 1608.5,239.7 1614.6,235.8 1620.7,232.2 1626.9,228.6 1633,225.1 1639.1,221.8 1645.2,218.8 1651.4,215.6 1657.5,212.5 1663.6,209.4 1669.7,206 1675.8,203.5 1682,200.4 1688.1,197.9 1694.2,195.4 1700.3,192.7 1706.5,190.4 1712.6,188.3 1718.7,186.8" fill="none" stroke="#ff00ff" stroke-width="1.3" stroke-linejoin="round" marker-start="url(#ecd)" marker-mid="url(#ecd)" marker-end="url(#ecd)"/></g>
<g id="chart-e-legend"><line x1="248.6" y1="80.6" x2="367.4" y2="80.6" stroke="#ff0000" stroke-width="3.5" stroke-linecap="round"/><rect x="298.5" y="70.8" width="19.6" height="20.2" fill="#ff0000"/><text transform="translate(381 98) scale(1.042 1)" font-size="50.3" text-anchor="start" word-spacing="2">E3a Catholyte</text><line x1="248.6" y1="145.6" x2="367.4" y2="145.6" stroke="#0000ff" stroke-width="3.5" stroke-linecap="round"/><circle cx="308.3" cy="145.9" r="10.2" fill="#0000ff"/><text transform="translate(381 163) scale(1.042 1)" font-size="50.3" text-anchor="start" word-spacing="2">E3b Catholyte</text><line x1="248.6" y1="210.6" x2="367.4" y2="210.6" stroke="#000000" stroke-width="3.5" stroke-linecap="round"/><path d="M308.3 197.4L320.3 215.7V218H296.3V215.7Z" fill="#000000"/><text transform="translate(381 228) scale(1.042 1)" font-size="50.3" text-anchor="start" word-spacing="2">E3c Catholyte</text><line x1="248.6" y1="275.6" x2="367.4" y2="275.6" stroke="#ff00ff" stroke-width="3.5" stroke-linecap="round"/><path d="M308.3 289.4L320.3 271.1V268.8H296.3V271.1Z" fill="#ff00ff"/><text transform="translate(381 293) scale(1.042 1)" font-size="50.3" text-anchor="start" word-spacing="2">E3d Catholyte</text><line x1="251.8" y1="1078.4" x2="370" y2="1078.4" stroke="#ff0000" stroke-width="5.4" stroke-linecap="round"/><rect x="302.1" y="1069.4" width="17.4" height="18" fill="#fff" stroke="#ff0000" stroke-width="2.2"/><text transform="translate(384 1096.2) scale(1.042 1)" font-size="50.3" text-anchor="start" word-spacing="3.6">E3a Anolyte</text><line x1="251.8" y1="1143.7" x2="370" y2="1143.7" stroke="#0000ff" stroke-width="5.4" stroke-linecap="round"/><circle cx="310.8" cy="1143.7" r="9.1" fill="#fff" stroke="#0000ff" stroke-width="2.2"/><text transform="translate(384 1161.5) scale(1.042 1)" font-size="50.3" text-anchor="start" word-spacing="3.6">E3b Anolyte</text><line x1="251.8" y1="1209" x2="370" y2="1209" stroke="#000000" stroke-width="5.4" stroke-linecap="round"/><path d="M310.8 1196.9L321.7 1213.1V1215.4H299.9V1213.1Z" fill="#fff" stroke="#000000" stroke-width="2.2"/><text transform="translate(384 1226.8) scale(1.042 1)" font-size="50.3" text-anchor="start" word-spacing="3.6">E3c Anolyte</text><line x1="251.8" y1="1274.3" x2="370" y2="1274.3" stroke="#ff00ff" stroke-width="5.4" stroke-linecap="round"/><path d="M310.8 1286.4L321.7 1270.2V1267.9H299.9V1270.2Z" fill="#fff" stroke="#ff00ff" stroke-width="2.2"/><text transform="translate(384 1292.1) scale(1.042 1)" font-size="50.3" text-anchor="start" word-spacing="3.6">E3d Anolyte</text></g>
<g><text transform="translate(855.4 1422.9) scale(0.84 1)" font-size="85.5" text-anchor="start">(</text><text transform="translate(882.6 1423.4) scale(1.07 1)" font-size="84.0" text-anchor="start" font-weight="bold">e</text><text transform="translate(948.6 1422.9) scale(0.84 1)" font-size="85.5" text-anchor="end">)</text></g>
<g id="chart-f-text"><text transform="translate(287.4 2633.1) scale(0.988 1)" font-size="59.2" text-anchor="end">0</text><text transform="translate(287.4 2350.1) scale(0.988 1)" font-size="59.2" text-anchor="end">160</text><text transform="translate(287.4 2067.1) scale(0.988 1)" font-size="59.2" text-anchor="end">320</text><text transform="translate(287.4 1784) scale(0.988 1)" font-size="59.2" text-anchor="end">480</text><text transform="translate(287.4 1501) scale(0.988 1)" font-size="59.2" text-anchor="end">640</text><text transform="translate(312.9 2686.2) scale(0.99 1)" font-size="59.2" text-anchor="middle">0</text><text transform="translate(594.4 2686.2) scale(0.99 1)" font-size="59.2" text-anchor="middle">50</text><text transform="translate(877.7 2686.2) scale(0.99 1)" font-size="59.2" text-anchor="middle">100</text><text transform="translate(1159.2 2686.2) scale(0.99 1)" font-size="59.2" text-anchor="middle">150</text><text transform="translate(1438.9 2686.2) scale(0.99 1)" font-size="59.2" text-anchor="middle">200</text><text transform="translate(1720.4 2686.2) scale(0.99 1)" font-size="59.2" text-anchor="middle">250</text><text transform="translate(1017.6 2749.3)" font-size="59.2" text-anchor="middle">Time (h)</text><text transform="translate(102.3 2053.5) rotate(-90) scale(0.998 1)" font-size="59.2" text-anchor="middle">Accumulated discharged water volume of</text><text transform="translate(174.3 2050.8) rotate(-90) scale(0.992 1)" font-size="59.2" text-anchor="middle">contaminated soil itself (mL)</text></g>
<g id="chart-f-axes" fill="#000"><rect x="310.2" y="1481.1" width="5" height="1137.9"/><rect x="312.7" y="2471.6" width="11.3" height="5.9"/><rect x="312.7" y="2330.1" width="22.3" height="5.9"/><rect x="312.7" y="2188.6" width="11.3" height="5.9"/><rect x="312.7" y="2047.1" width="22.3" height="5.9"/><rect x="312.7" y="1905.6" width="11.3" height="5.9"/><rect x="312.7" y="1764.1" width="22.3" height="5.9"/><rect x="312.7" y="1622.6" width="11.3" height="5.9"/><rect x="312.7" y="1481.1" width="22.3" height="5.9"/><rect x="310.2" y="2613" width="1413" height="6"/><rect x="450.5" y="2604.8" width="5.9" height="11.3"/><rect x="591.2" y="2593.8" width="5.9" height="22.3"/><rect x="732" y="2604.8" width="5.9" height="11.3"/><rect x="872.8" y="2593.8" width="5.9" height="22.3"/><rect x="1013.5" y="2604.8" width="5.9" height="11.3"/><rect x="1154.2" y="2593.8" width="5.9" height="22.3"/><rect x="1295" y="2604.8" width="5.9" height="11.3"/><rect x="1435.8" y="2593.8" width="5.9" height="22.3"/><rect x="1576.5" y="2604.8" width="5.9" height="11.3"/><rect x="1717.2" y="2593.8" width="5.9" height="22.3"/></g>
<g id="chart-f-data" clip-path="url(#clip-f)" shape-rendering="crispEdges"><polyline points="312.7,2616 318.3,2615.8 324,2616 329.6,2615.5 335.2,2615.5 340.8,2615.2 346.5,2615.1 352.1,2614.7 357.7,2613.7 363.4,2613 369,2611.7 374.6,2611.2 380.3,2609.5 385.9,2608.1 391.5,2606.8 397.1,2605.3 402.8,2603.6 408.4,2601.9 414,2600.1 419.7,2598.1 425.3,2596.4 430.9,2595 436.6,2593.2 442.2,2591.9 447.8,2590.2 453.4,2588.2 459.1,2585.7 464.7,2582.8 470.3,2580 476,2577.1 481.6,2574.4 487.2,2571.8 492.9,2569.2 498.5,2566.4 504.1,2564.1 509.8,2561.4 515.4,2558.9 521,2556 526.6,2553.6 532.3,2551.1 537.9,2548.4 543.5,2546.1 549.2,2544.1 554.8,2541.8 560.4,2539.5 566,2536.5 571.7,2533.4 577.3,2529.5 582.9,2525.3 588.6,2521 594.2,2516.6 599.8,2512.2 605.5,2507.9 611.1,2503.8 616.7,2499 622.3,2494.7 628,2490.1 633.6,2485.8 639.2,2481.4 644.9,2476.5 650.5,2472.2 656.1,2467.6 661.8,2462.8 667.4,2457.9 673,2453.5 678.6,2448.5 684.3,2443.9 689.9,2438.9 695.5,2434.3 701.2,2429.4 706.8,2424.3 712.4,2419.5 718.1,2415.1 723.7,2409.9 729.3,2405.1 735,2400 740.6,2395.5 746.2,2390.7 751.8,2385.9 757.5,2380.5 763.1,2376 768.7,2370.7 774.4,2365.8 780,2360.8 785.6,2355.8 791.2,2350.8 796.9,2345.7 802.5,2340.7 808.1,2336 813.8,2330.8 819.4,2325.9 825,2321.5 830.7,2316.5 836.3,2312 841.9,2307.5 847.5,2302.5 853.2,2298.5 858.8,2293.7 864.4,2290 870.1,2279 875.7,2274.4 881.3,2269.5 887,2264 892.6,2258.9 898.2,2254.1 903.8,2249.1 909.5,2243.9 915.1,2239.2 920.7,2234.1 926.4,2229.5 932,2225.3 937.6,2220.8 943.3,2216.5 948.9,2212.3 954.5,2208.6 960.1,2204.5 965.8,2200.1 971.4,2196.5 977,2192.5 982.7,2188.3 988.3,2184.1 993.9,2179.7 999.6,2175.2 1005.2,2171.1 1010.8,2166.5 1016.5,2161.7 1022.1,2157.5 1027.7,2152.9 1033.3,2148.3 1039,2143.3 1044.6,2138.8 1050.2,2134.2 1055.9,2130.1 1061.5,2125.5 1067.1,2120.6 1072.8,2115.4 1078.4,2110.1 1084,2104.4 1089.6,2097.7 1095.3,2090.9 1100.9,2083.2 1106.5,2075 1112.2,2066.3 1117.8,2057.4 1123.4,2048.6 1129,2039.7 1134.7,2031.4 1140.3,2023 1145.9,2014.6 1151.6,2006.4 1157.2,1998.2 1162.8,1989.6 1168.5,1980.9 1174.1,1972.7 1179.7,1964 1185.3,1955.6 1191,1947.8 1196.6,1939.4 1202.2,1931.5 1207.9,1924 1213.5,1917.1 1219.1,1910.2 1224.8,1903.8 1230.4,1898.1 1236,1892 1241.6,1886.4 1247.3,1881 1252.9,1875.2 1258.5,1870.2 1264.2,1865.1 1269.8,1861.1 1275.4,1857.1 1281.1,1853.8 1286.7,1850.3 1292.3,1847.2 1298,1842.2 1303.6,1836.2 1309.2,1829.3 1314.8,1821.7 1320.5,1814.7 1326.1,1808.6 1331.7,1803.6 1337.4,1799.1 1343,1795.7 1348.6,1791.6 1354.2,1788.1 1359.9,1783.4 1365.5,1779.7 1371.1,1775.4 1376.8,1771 1382.4,1767.5 1388,1763.7 1393.7,1760.7 1399.3,1757.5 1404.9,1754 1410.5,1750.8 1416.2,1746.7 1421.8,1741.7 1427.4,1736.8 1433.1,1732.3 1438.7,1728.2 1444.3,1725.1 1450,1722.1 1455.6,1719.2 1461.2,1716.9 1466.9,1713.7 1472.5,1710.8 1478.1,1708.1 1483.7,1705.6 1489.4,1702.2 1495,1698.6 1500.6,1692.6 1506.3,1685.1 1511.9,1675.5 1517.5,1664.5 1523.2,1653.9 1528.8,1645.4 1534.4,1637.5 1540,1629.4 1545.7,1622 1551.3,1614.8 1556.9,1607.5 1562.6,1600.8 1568.2,1595.3 1573.8,1590.7 1579.5,1587.1 1585.1,1583.2 1590.7,1579 1596.3,1575.7 1602,1572.6 1607.6,1570.4 1613.2,1568.2 1618.9,1566.5 1624.5,1564.8 1630.1,1563.5 1635.8,1562 1641.4,1560.4 1647,1558.1 1652.6,1556.6 1658.3,1554.4 1663.9,1552.7 1669.5,1549.8 1675.2,1546.6 1680.8,1544.1 1686.4,1542.3 1692,1541.5 1697.7,1540.6" fill="none" stroke="#ff0000" stroke-width="3" stroke-linejoin="round" marker-start="url(#fa)" marker-mid="url(#fa)" marker-end="url(#fa)"/><polyline points="312.7,2616 318.3,2615.6 324,2615.1 329.6,2615.3 335.2,2613.4 340.8,2613 346.5,2612.1 352.1,2612 357.7,2610.2 363.4,2610.3 369,2607.8 374.6,2607.6 380.3,2606.6 385.9,2604.8 391.5,2602 397.1,2599.7 402.8,2599.1 408.4,2597.6 414,2595.3 419.7,2593 425.3,2592.5 430.9,2591.3 436.6,2589.9 442.2,2589.4 447.8,2588.1 453.4,2587.2 459.1,2585.4 464.7,2581.7 470.3,2580.1 476,2577.2 481.6,2573.8 487.2,2571.6 492.9,2567.8 498.5,2565.7 504.1,2564.6 509.8,2562.1 515.4,2559.4 521,2556.5 526.6,2554.9 532.3,2552.6 537.9,2550 543.5,2547.2 549.2,2545.8 554.8,2542.9 560.4,2540.4 566,2538.8 571.7,2535.8 577.3,2530.7 582.9,2526.6 588.6,2523 594.2,2518.5 599.8,2515.7 605.5,2511.6 611.1,2507.6 616.7,2504.9 622.3,2500.7 628,2496.1 633.6,2492.3 639.2,2489.1 644.9,2484.9 650.5,2481.9 656.1,2476.3 661.8,2472.5 667.4,2468 673,2464.4 678.6,2460.1 684.3,2455.5 689.9,2450 695.5,2446.9 701.2,2441 706.8,2437.4 712.4,2434.4 718.1,2430.4 723.7,2424.9 729.3,2422.1 735,2417.4 740.6,2414.3 746.2,2409.8 751.8,2405.8 757.5,2402.5 763.1,2398.6 768.7,2394.4 774.4,2390.3 780,2385.7 785.6,2382.5 791.2,2377.1 796.9,2374 802.5,2369.4 808.1,2365.3 813.8,2360 819.4,2357.2 825,2353.9 830.7,2349.1 836.3,2346 841.9,2341.3 847.5,2337.1 853.2,2334.5 858.8,2330.8 864.4,2325.8 870.1,2323.6 875.7,2319.4 881.3,2316.7 887,2312.4 892.6,2308.7 898.2,2306.6 903.8,2302.8 909.5,2300 915.1,2295.3 920.7,2293.3 926.4,2290.1 932,2286.1 937.6,2282.5 943.3,2279.1 948.9,2277.2 954.5,2273.7 960.1,2270.7 965.8,2266.3 971.4,2263.7 977,2259.9 982.7,2256.6 988.3,2253.1 993.9,2248.5 999.6,2246.2 1005.2,2241.4 1010.8,2237.8 1016.5,2232.8 1022.1,2228.8 1027.7,2226.3 1033.3,2220.8 1039,2217.5 1044.6,2212.7 1050.2,2209.1 1055.9,2204.8 1061.5,2201 1067.1,2195.9 1072.8,2189.8 1078.4,2184.1 1084,2178.7 1089.6,2171.2 1095.3,2164.4 1100.9,2158 1106.5,2150.5 1112.2,2144.2 1117.8,2137.1 1123.4,2130 1129,2123 1134.7,2117.5 1140.3,2111 1145.9,2105.9 1151.6,2102.5 1157.2,2099.6 1162.8,2092.5 1168.5,2086.6 1174.1,2078.8 1179.7,2072.3 1185.3,2065.8 1191,2058 1196.6,2053.1 1202.2,2045.7 1207.9,2040.4 1213.5,2033.3 1219.1,2027.9 1224.8,2022 1230.4,2016.5 1236,2011.7 1241.6,2006.9 1247.3,1999.9 1252.9,1993.1 1258.5,1986.2 1264.2,1979.5 1269.8,1974.4 1275.4,1968.8 1281.1,1964.5 1286.7,1958.7 1292.3,1953.4 1298,1949.2 1303.6,1942.7 1309.2,1934.7 1314.8,1928.3 1320.5,1921 1326.1,1915.4 1331.7,1908 1337.4,1901.7 1343,1895.8 1348.6,1889.7 1354.2,1883.4 1359.9,1876.9 1365.5,1871.7 1371.1,1865.3 1376.8,1860.2 1382.4,1853.9 1388,1850 1393.7,1845.1 1399.3,1839.6 1404.9,1834.3 1410.5,1828.6 1416.2,1823.9 1421.8,1817.8 1427.4,1810.7 1433.1,1805.3 1438.7,1799.9 1444.3,1793.2 1450,1786.4 1455.6,1780.3 1461.2,1774.2 1466.9,1768.1 1472.5,1763.2 1478.1,1759.3 1483.7,1754.3 1489.4,1750.3 1495,1745.8 1500.6,1742.8 1506.3,1737.6 1511.9,1732.1 1517.5,1726.8 1523.2,1721.6 1528.8,1717.9 1534.4,1712.5 1540,1708.4 1545.7,1702.9 1551.3,1697.7 1556.9,1694.6 1562.6,1689.7 1568.2,1687 1573.8,1684 1579.5,1679.8 1585.1,1676.3 1590.7,1673.7 1596.3,1670 1602,1666.4 1607.6,1662.3 1613.2,1660.4 1618.9,1656.6 1624.5,1654.5 1630.1,1651.2 1635.8,1648.2 1641.4,1646.1 1647,1643 1652.6,1641.3 1658.3,1640.1 1663.9,1637.2 1669.5,1634.9 1675.2,1632 1680.8,1630.3 1686.4,1627.1 1692,1626.1 1697.7,1622.4" fill="none" stroke="#0000ff" stroke-width="3" stroke-linejoin="round" marker-start="url(#fb)" marker-mid="url(#fb)" marker-end="url(#fb)"/><polyline points="312.7,2614 318.3,2614.2 324,2614 329.6,2613.5 335.2,2613.1 340.8,2613.1 346.5,2612.3 352.1,2612 357.7,2611.6 363.4,2611 369,2610.2 374.6,2610 380.3,2609.1 385.9,2607.6 391.5,2606.5 397.1,2605.4 402.8,2603.8 408.4,2601.8 414,2600.3 419.7,2598.8 425.3,2597.7 430.9,2596.2 436.6,2594.4 442.2,2592.9 447.8,2591.9 453.4,2589.8 459.1,2588.2 464.7,2586.4 470.3,2584.8 476,2582.5 481.6,2580.7 487.2,2578.5 492.9,2575.8 498.5,2573.7 504.1,2571 509.8,2568.4 515.4,2566.4 521,2563.6 526.6,2561 532.3,2558.8 537.9,2556.6 543.5,2554.5 549.2,2552.4 554.8,2550.3 560.4,2548.2 566,2546.3 571.7,2544.5 577.3,2542.4 582.9,2540.3 588.6,2538.3 594.2,2535.8 599.8,2532.9 605.5,2530.2 611.1,2527 616.7,2523.4 622.3,2519.8 628,2516.6 633.6,2513.3 639.2,2509.4 644.9,2506 650.5,2503.1 656.1,2499.3 661.8,2496.6 667.4,2493.1 673,2490.1 678.6,2487.2 684.3,2483.6 689.9,2480.5 695.5,2477.5 701.2,2473.6 706.8,2470.1 712.4,2466.8 718.1,2463.1 723.7,2458.9 729.3,2454.7 735,2450.9 740.6,2446.5 746.2,2442.4 751.8,2438.6 757.5,2435 763.1,2431.2 768.7,2427.3 774.4,2423.5 780,2420.1 785.6,2416.9 791.2,2413.5 796.9,2410 802.5,2406.4 808.1,2403.3 813.8,2399.7 819.4,2396.2 825,2392.2 830.7,2388.1 836.3,2384.5 841.9,2380.4 847.5,2376.1 853.2,2372.1 858.8,2368.4 864.4,2364.9 870.1,2360.9 875.7,2357.6 881.3,2354.3 887,2350.9 892.6,2348 898.2,2344.9 903.8,2342.1 909.5,2339.5 915.1,2336.7 920.7,2333.5 926.4,2330.8 932,2327.6 937.6,2324.5 943.3,2321 948.9,2317.3 954.5,2313.8 960.1,2309.9 965.8,2306.8 971.4,2303.1 977,2299.3 982.7,2295.5 988.3,2292.1 993.9,2288.4 999.6,2284.9 1005.2,2281.1 1010.8,2277.4 1016.5,2273.8 1022.1,2270.5 1027.7,2266.9 1033.3,2262.9 1039,2259.4 1044.6,2256 1050.2,2252.6 1055.9,2249.5 1061.5,2246.5 1067.1,2242.8 1072.8,2238.7 1078.4,2233.6 1084,2227.6 1089.6,2220.6 1095.3,2213.6 1100.9,2207.2 1106.5,2202.4 1112.2,2197.3 1117.8,2192.5 1123.4,2187.5 1129,2182.4 1134.7,2177.3 1140.3,2172.7 1145.9,2167.3 1151.6,2162.3 1157.2,2156.7 1162.8,2150.4 1168.5,2143.8 1174.1,2136.8 1179.7,2129.3 1185.3,2122.8 1191,2116.5 1196.6,2110.4 1202.2,2104.6 1207.9,2098.8 1213.5,2093.3 1219.1,2088.3 1224.8,2083.1 1230.4,2078.4 1236,2073.8 1241.6,2069.3 1247.3,2063.9 1252.9,2058.8 1258.5,2053.7 1264.2,2048 1269.8,2042.8 1275.4,2038.1 1281.1,2033.4 1286.7,2028.8 1292.3,2023.8 1298,2019.2 1303.6,2013.7 1309.2,2008.3 1314.8,2002.2 1320.5,1996.5 1326.1,1991.1 1331.7,1985.3 1337.4,1980.1 1343,1974.4 1348.6,1968.4 1354.2,1962.8 1359.9,1957.2 1365.5,1951.6 1371.1,1945.7 1376.8,1939.8 1382.4,1934.3 1388,1929.6 1393.7,1925.1 1399.3,1920.3 1404.9,1915.8 1410.5,1910.5 1416.2,1905.5 1421.8,1899.6 1427.4,1894.1 1433.1,1888 1438.7,1882.2 1444.3,1877.1 1450,1871.1 1455.6,1866 1461.2,1860.6 1466.9,1854.8 1472.5,1849.5 1478.1,1844.4 1483.7,1839.2 1489.4,1833.6 1495,1828.6 1500.6,1822.7 1506.3,1816.9 1511.9,1811.2 1517.5,1805.7 1523.2,1800.3 1528.8,1795.6 1534.4,1790.8 1540,1786.2 1545.7,1781.7 1551.3,1777 1556.9,1772.3 1562.6,1767 1568.2,1762.2 1573.8,1757.1 1579.5,1752.2 1585.1,1747.1 1590.7,1742.1 1596.3,1737.2 1602,1732.7 1607.6,1728.3 1613.2,1723.2 1618.9,1718.6 1624.5,1714.3 1630.1,1709.8 1635.8,1706 1641.4,1701.8 1647,1698.9 1652.6,1695.3 1658.3,1692.5 1663.9,1689.2 1669.5,1686 1675.2,1682.7 1680.8,1679.5 1686.4,1676.4 1692,1673.8 1697.7,1670.6" fill="none" stroke="#000000" stroke-width="3" stroke-linejoin="round" marker-start="url(#fc)" marker-mid="url(#fc)" marker-end="url(#fc)"/><polyline points="312.7,2613 318.3,2613.1 324,2613.2 329.6,2612.7 335.2,2612.6 340.8,2612.6 346.5,2610.9 352.1,2607 357.7,2604.8 363.4,2604.7 369,2604.4 374.6,2604.1 380.3,2603.9 385.9,2603.5 391.5,2602.7 397.1,2601.8 402.8,2601.1 408.4,2599.6 414,2598 419.7,2596.6 425.3,2595.2 430.9,2593.7 436.6,2592.9 442.2,2591.9 447.8,2591 453.4,2589.7 459.1,2588.4 464.7,2586.7 470.3,2585.1 476,2583.1 481.6,2581.5 487.2,2579.8 492.9,2577.7 498.5,2575.3 504.1,2573.2 509.8,2570.7 515.4,2568.5 521,2565.9 526.6,2563.7 532.3,2561.1 537.9,2558.9 543.5,2557 549.2,2554.7 554.8,2552.7 560.4,2551 566,2549.2 571.7,2547.4 577.3,2545.1 582.9,2543.1 588.6,2541 594.2,2538.5 599.8,2535.3 605.5,2533 611.1,2529.8 616.7,2526.4 622.3,2522.6 628,2519.4 633.6,2516.1 639.2,2512.4 644.9,2508.8 650.5,2505.6 656.1,2502.6 661.8,2499 667.4,2495.9 673,2493.4 678.6,2489.9 684.3,2486.9 689.9,2483.5 695.5,2480.3 701.2,2476.8 706.8,2472.9 712.4,2469.1 718.1,2464.6 723.7,2459.4 729.3,2454.6 735,2449.6 740.6,2444.4 746.2,2438.9 751.8,2434.5 757.5,2430 763.1,2425.5 768.7,2421.6 774.4,2418.2 780,2415 785.6,2411.6 791.2,2408.8 796.9,2405.3 802.5,2402.7 808.1,2399.1 813.8,2395.8 819.4,2392.5 825,2388.8 830.7,2385.2 836.3,2380.9 841.9,2377.3 847.5,2373.1 853.2,2369.2 858.8,2365.1 864.4,2360.9 870.1,2356.8 875.7,2353.2 881.3,2349 887,2345.2 892.6,2341.6 898.2,2337.5 903.8,2333.5 909.5,2329.6 915.1,2325.5 920.7,2321.5 926.4,2317.2 932,2313.5 937.6,2308.7 943.3,2304.3 948.9,2299.4 954.5,2294.4 960.1,2289.7 965.8,2284.8 971.4,2279.7 977,2275.4 982.7,2270.4 988.3,2266.1 993.9,2261.5 999.6,2257.5 1005.2,2253.6 1010.8,2249.7 1016.5,2245.7 1022.1,2241.6 1027.7,2237.4 1033.3,2233.4 1039,2228.5 1044.6,2224.3 1050.2,2219.1 1055.9,2214 1061.5,2208.6 1067.1,2202.3 1072.8,2196.2 1078.4,2189.2 1084,2181.7 1089.6,2173.4 1095.3,2165.1 1100.9,2157.1 1106.5,2149.3 1112.2,2142.2 1117.8,2133.9 1123.4,2125 1129,2117.7 1134.7,2114.1 1140.3,2112.9 1145.9,2112.8 1151.6,2112.4 1157.2,2112 1162.8,2111.1 1168.5,2109.1 1174.1,2107.4 1179.7,2105.2 1185.3,2102.3 1191,2099.1 1196.6,2095.2 1202.2,2090.5 1207.9,2085.4 1213.5,2081.8 1219.1,2077.6 1224.8,2074.5 1230.4,2071 1236,2067.8 1241.6,2064.4 1247.3,2060.9 1252.9,2057.3 1258.5,2053.9 1264.2,2050.3 1269.8,2046.3 1275.4,2043.2 1281.1,2039.9 1286.7,2036.7 1292.3,2033.1 1298,2029.6 1303.6,2025.7 1309.2,2022.3 1314.8,2018.3 1320.5,2014 1326.1,2009.6 1331.7,2004.9 1337.4,1999.4 1343,1993.6 1348.6,1987.3 1354.2,1981.8 1359.9,1977 1365.5,1971.8 1371.1,1967.3 1376.8,1962.1 1382.4,1956.8 1388,1951.5 1393.7,1946.2 1399.3,1941.1 1404.9,1935.3 1410.5,1929.5 1416.2,1922.7 1421.8,1915.7 1427.4,1909 1433.1,1901.7 1438.7,1894.9 1444.3,1888.8 1450,1882.1 1455.6,1876 1461.2,1870.2 1466.9,1864.5 1472.5,1859.1 1478.1,1853.1 1483.7,1847.5 1489.4,1842.2 1495,1838.6 1500.6,1834.9 1506.3,1832.1 1511.9,1830.6 1517.5,1849.6 1523.2,1843.8 1528.8,1833.7 1534.4,1825.2 1540,1816.3 1545.7,1807.5 1551.3,1799.1 1556.9,1789.4 1562.6,1779.7 1568.2,1772.3 1573.8,1765.7 1579.5,1760 1585.1,1755.7 1590.7,1751.7 1596.3,1748.2 1602,1744.9 1607.6,1740.9 1613.2,1737.6 1618.9,1733.6 1624.5,1729.8 1630.1,1725.7 1635.8,1722.5 1641.4,1719.1 1647,1716 1652.6,1713.1 1658.3,1710.7 1663.9,1708 1669.5,1705.3 1675.2,1702.4 1680.8,1700.6 1686.4,1698.3 1692,1695.7 1697.7,1693.8" fill="none" stroke="#ff00ff" stroke-width="3" stroke-linejoin="round" marker-start="url(#fd)" marker-mid="url(#fd)" marker-end="url(#fd)"/></g>
<g id="chart-f-legend"><line x1="355.9" y1="1515.5" x2="486.2" y2="1515.5" stroke="#ff0000" stroke-width="5.5" stroke-linecap="round"/><rect x="412.9" y="1506.5" width="17.9" height="18.4" fill="#ff0000"/><text transform="translate(501 1536.3) scale(1.05 1)" font-size="58.4" text-anchor="start">E3a</text><line x1="355.9" y1="1587.8" x2="486.2" y2="1587.8" stroke="#0000ff" stroke-width="5.5" stroke-linecap="round"/><circle cx="421.8" cy="1588" r="9.3" fill="#0000ff"/><text transform="translate(501 1608.6) scale(1.05 1)" font-size="58.4" text-anchor="start">E3b</text><line x1="355.9" y1="1660.1" x2="486.2" y2="1660.1" stroke="#000000" stroke-width="5.5" stroke-linecap="round"/><path d="M421.8 1647.9L432.7 1664.5V1666.8H410.9V1664.5Z" fill="#000000"/><text transform="translate(501 1680.9) scale(1.05 1)" font-size="58.4" text-anchor="start">E3c</text><line x1="355.9" y1="1732.4" x2="486.2" y2="1732.4" stroke="#ff00ff" stroke-width="5.5" stroke-linecap="round"/><path d="M421.8 1745L432.7 1728.4V1726.1H410.9V1728.4Z" fill="#ff00ff"/><text transform="translate(501 1753.2) scale(1.05 1)" font-size="58.4" text-anchor="start">E3d</text></g>
<g><text transform="translate(860 2859) scale(0.84 1)" font-size="85.5" text-anchor="start">(</text><text transform="translate(888 2859.5) scale(1.07 1)" font-size="84.0" text-anchor="start" font-weight="bold">f</text><text transform="translate(944.6 2859) scale(0.84 1)" font-size="85.5" text-anchor="end">)</text></g>
</svg>
</body>
</html>
